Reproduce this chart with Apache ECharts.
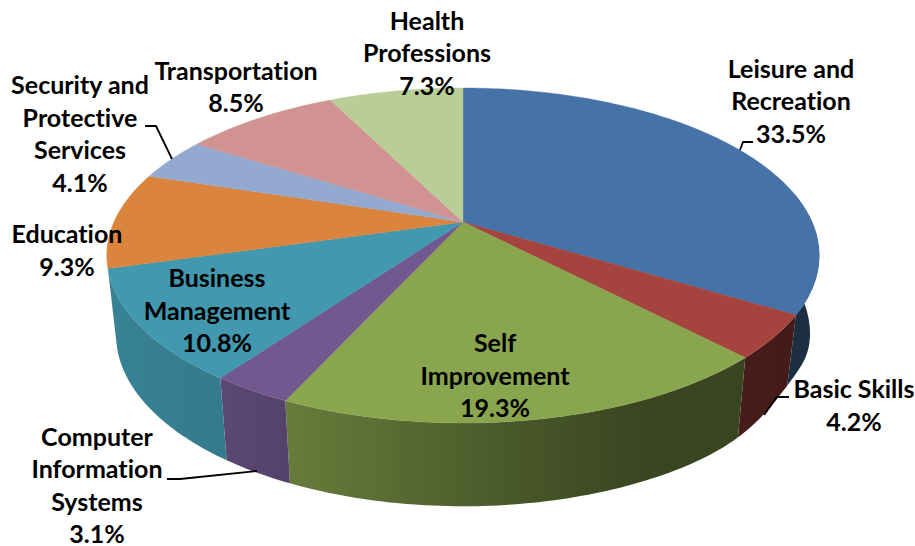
<!DOCTYPE html>
<html>
<head>
<meta charset="utf-8">
<style>html,body{margin:0;padding:0;background:#fff}#c{width:915px;height:546px}text{font-variant-ligatures:none}</style>
<script src="https://cdn.jsdelivr.net/npm/echarts@6/dist/echarts.min.js"></script>
</head>
<body>
<div id="c"></div>
<script>
var categories = ['Leisure and\nRecreation','Basic Skills','Self\nImprovement','Computer\nInformation\nSystems','Business\nManagement','Education','Security and\nProtective\nServices','Transportation','Health\nProfessions'];
var shares = [33.5,4.2,19.3,3.1,10.8,9.3,4.1,8.5,7.3];
var colors = ['#4572A7','#A5433F','#89A54E','#71588F','#4198AF','#DB843D','#93A9CF','#D19392','#B9CD96'];
var labelCentres = [[791,100],[854,404.5],[495,374.5],[97,484.5],[217,309.5],[67,249.5],[80,133],[236,86],[427,52]];
var leaders = [
  [[740,150],[743,142],[753,142]],
  [[764,415],[777,397],[789,397]],
  null,
  [[167,479],[180,479],[257,471]],
  null,null,
  [[145,126],[156,126],[172,159]],
  null,null
];

// perspective projection of the pie disc
var TOP = {cx:463, cy:222, a:349, b:160.8, k:0.2, dent:0};
var BOTTOM = {cx:463, cy:300, a:340, b:165, k:0.2, dent:10};
var WARP_DEG = 0.9;
var WALL_FROM = 78.5, WALL_TO = 255.2;
function project(g, deg){
  var r = (deg + WARP_DEG*Math.sin(deg*Math.PI/180))*Math.PI/180;
  var u = Math.sin(r), v = -Math.cos(r), d = 1-g.k*v;
  var t = (deg-120)/12;
  return [g.cx+g.a*u/d, g.cy+g.b*v/d - g.dent*Math.exp(-t*t)];
}
function arc(g, from, to){
  var n = Math.max(2, Math.ceil(Math.abs(to-from))), pts = [];
  for (var i=0;i<=n;i++) pts.push(project(g, from+(to-from)*i/n));
  return pts;
}
var total = shares.reduce(function(s,v){return s+v;},0);
function wedge(idx){
  var before = 0;
  for (var i=0;i<idx;i++) before += shares[i];
  return [before/total*360, (before+shares[idx])/total*360];
}
var shadeStops = [[100,0.86],[230,0.80],[290,0.75],[463,0.58],[640,0.42],[740,0.42],[820,0.40]];
function shadeAt(x){
  if (x<=shadeStops[0][0]) return shadeStops[0][1];
  for (var i=1;i<shadeStops.length;i++){
    if (x<=shadeStops[i][0]){
      var p=shadeStops[i-1], q=shadeStops[i];
      return p[1]+(q[1]-p[1])*(x-p[0])/(q[0]-p[0]);
    }
  }
  return shadeStops[shadeStops.length-1][1];
}
function darken(hex, f){
  var n=parseInt(hex.slice(1),16);
  return 'rgb('+Math.round((n>>16&255)*f)+','+Math.round((n>>8&255)*f)+','+Math.round((n&255)*f)+')';
}
function renderWall(params, api){
  var i = params.dataIndex, w = wedge(i);
  var from = Math.max(w[0],WALL_FROM), to = Math.min(w[1],WALL_TO);
  if (to-from < 0.01) return {type:'group',children:[]};
  var topArc = arc(TOP,from,to), botArc = arc(BOTTOM,from,to).reverse();
  var pts = topArc.concat(botArc);
  var xs = pts.map(function(p){return p[0];});
  var x0=Math.min.apply(null,xs), x1=Math.max.apply(null,xs), stops=[];
  for (var s=0;s<=10;s++){
    stops.push({offset:s/10,color:darken(colors[i],shadeAt(x0+(x1-x0)*s/10))});
  }
  var grad = new echarts.graphic.LinearGradient(0,0,1,0,stops);
  return {type:'polygon',shape:{points:pts},style:{fill:grad,stroke:null}};
}
function renderTop(params, api){
  var i = params.dataIndex, w = wedge(i);
  var pts = [[TOP.cx,TOP.cy]].concat(arc(TOP,w[0],w[1]));
  return {type:'polygon',shape:{points:pts},style:{fill:colors[i],stroke:colors[i],lineWidth:0.4}};
}
function renderLabel(params, api){
  var i = params.dataIndex, c = labelCentres[i], kids = [];
  if (leaders[i]) kids.push({type:'polyline',shape:{points:leaders[i]},style:{fill:null,stroke:'#000',lineWidth:1.8}});
  kids.push({type:'text',style:{
    text:categories[i]+'\n'+api.value(0).toFixed(1)+'%',x:c[0],y:c[1],
    textAlign:'center',textVerticalAlign:'middle',
    fontFamily:'Lato',fontWeight:'bold',fontSize:25,lineHeight:32.5,fill:'#000'}});
  return {type:'group',children:kids};
}
var rows = shares.map(function(v,i){return {name:categories[i],value:v};});
function layer(fn,z){return {type:'custom',coordinateSystem:'none',renderItem:fn,data:rows,z:z,silent:true,animation:false,clip:false};}
var chart = echarts.init(document.getElementById('c'),null,{renderer:'svg'});
chart.setOption({animation:false,backgroundColor:'#fff',series:[layer(renderWall,1),layer(renderTop,2),layer(renderLabel,3)]});
</script>
</body>
</html>
